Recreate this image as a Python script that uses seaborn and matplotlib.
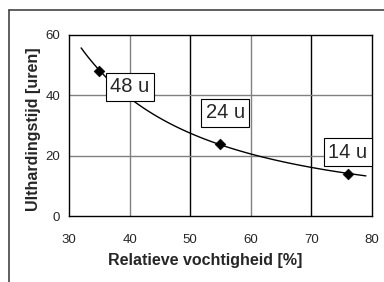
import numpy as np
import pandas as pd
import seaborn as sns
import matplotlib.pyplot as plt
from matplotlib.lines import Line2D

sns.set_style('white')
plt.rcParams['font.family'] = ['Liberation Sans', 'DejaVu Sans']

# data
humidity = [35, 55, 76]
hours = [48, 24, 14]
labels = ['48 u', '24 u', '14 u']
label_pos = [(40, 42.8), (55.8, 34.2), (76, 21.2)]

df = pd.DataFrame({'x': humidity, 'y': hours})

# power trendline fitted on the points
b, log_a = np.polyfit(np.log(humidity), np.log(hours), 1)
fit_x = np.linspace(32, 79, 100)
fit = pd.DataFrame({'x': fit_x, 'y': np.exp(log_a) * fit_x ** b})

fig = plt.figure(figsize=(3.84, 2.82), dpi=100)
ax = fig.add_axes([0.1797, 0.234, 0.789, 0.642])

# outer chart border (cut off at right/bottom)
fig.add_artist(Line2D([9 / 384, 1.0], [1 - 10 / 282, 1 - 10 / 282], color='#444444', lw=1.2))
fig.add_artist(Line2D([9 / 384, 9 / 384], [0.0, 1 - 10 / 282], color='#444444', lw=1.2))

# grid lines
for gx in [40, 60]:
    ax.axvline(gx, color='#808080', lw=1, zorder=0)
for gx in [50, 70]:
    ax.axvline(gx, color='black', lw=1, zorder=0)
for gy in [20, 40]:
    ax.axhline(gy, color='#808080', lw=1, zorder=0)

sns.lineplot(data=fit, x='x', y='y', color='black', lw=1, ax=ax, zorder=2)
sns.scatterplot(data=df, x='x', y='y', marker='D', color='black', s=30, ax=ax, zorder=3, edgecolor='black')

for t, (lx, ly) in zip(labels, label_pos):
    ax.text(lx, ly, t, ha='center', va='center', fontsize=14.5, zorder=4,
            bbox=dict(boxstyle='square,pad=0.22', fc='white', ec='black', lw=0.8))

ax.set_xlim(30, 80)
ax.set_ylim(0, 60)
ax.set_xticks([30, 40, 50, 60, 70, 80])
ax.set_yticks([0, 20, 40, 60])
for s in ax.spines.values():
    s.set_color('black')
    s.set_linewidth(1)
ax.tick_params(axis='both', direction='out', length=3, width=1, labelsize=9.5, color='black')
ax.tick_params(axis='x', pad=10)
ax.set_xlabel('Relatieve vochtigheid [%]', fontsize=11.5, fontweight='bold', labelpad=5, x=0.45)
ax.set_ylabel('Ulthardingstijd [uren]', fontsize=11.5, fontweight='bold', labelpad=3, y=0.478)

fig.savefig('out.png', dpi=100)
